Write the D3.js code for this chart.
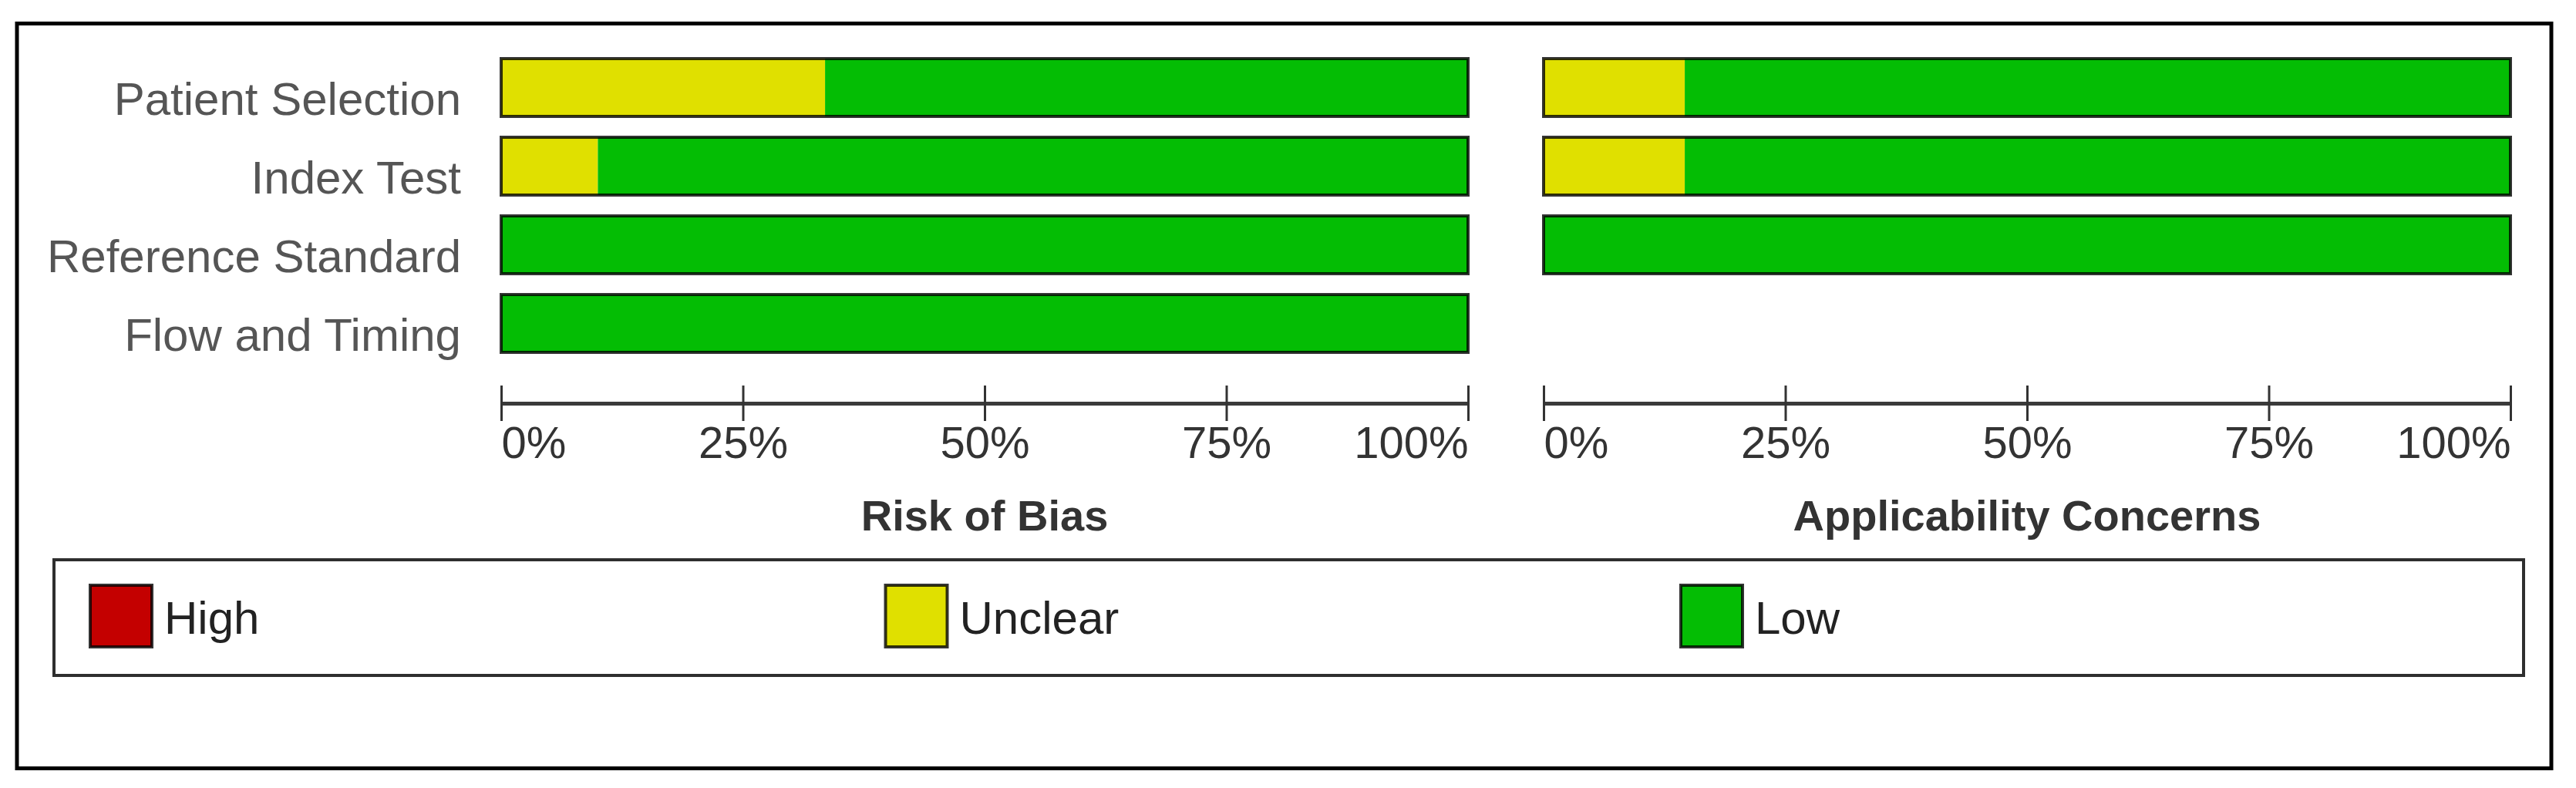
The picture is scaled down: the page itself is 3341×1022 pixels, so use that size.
<!DOCTYPE html>
<html>
<head>
<meta charset="utf-8">
<script src="https://cdn.jsdelivr.net/npm/d3@7"></script>
<style>
  html, body { margin: 0; padding: 0; background: #fff; }
  #chart { width: 3341px; height: 1022px; }
</style>
</head>
<body>
<div id="chart"></div>
<script>
// 数据
const domains = ["Patient Selection", "Index Test", "Reference Standard", "Flow and Timing"]
const applicDomains = ["Patient Selection", "Index Test", "Reference Standard"]
const riskHigh = [0, 0, 0, 0]
const riskUnclear = [33.5, 10, 0, 0]
const riskLow = [66.5, 90, 100, 100]
const applicHigh = [0, 0, 0]
const applicUnclear = [14.6, 14.6, 0]
const applicLow = [85.4, 85.4, 100]
const tickValues = [0, 25, 50, 75, 100]
const legendLabels = ["High", "Unclear", "Low"]
const keys = ["high", "unclear", "low"]
const colors = ["#c40000", "#e0e000", "#04bd04"]

const W = 3341
const H = 1022
const FONT = "'Liberation Sans', Arial, sans-serif"

const svg = d3.select("#chart").append("svg").attr("width", W).attr("height", H)
svg.append("rect").attr("width", W).attr("height", H).attr("fill", "#fff")

// 外框
svg.append("rect")
  .attr("x", 22).attr("y", 30.5)
  .attr("width", 3287).attr("height", 966)
  .attr("fill", "none").attr("stroke", "#000").attr("stroke-width", 5)

const y = d3.scaleBand().domain(domains).range([62.5, 470.5]).paddingInner(0.265).paddingOuter(0.1325)
const color = d3.scaleOrdinal().domain(keys).range(colors)

// 一个面板：堆叠条 + 坐标轴 + 标题
function drawPanel(x0, x1, cats, high, unclear, low, title) {
  const x = d3.scaleLinear().domain([0, 100]).range([x0, x1])
  const rows = cats.map((d, i) => ({domain: d, high: high[i], unclear: unclear[i], low: low[i]}))
  const series = d3.stack().keys(keys)(rows)

  const g = svg.append("g")
  g.selectAll("g.series")
    .data(series)
    .join("g")
    .attr("class", "series")
    .attr("fill", d => color(d.key))
    .selectAll("rect")
    .data(d => d)
    .join("rect")
    .attr("x", d => x(d[0]))
    .attr("width", d => x(d[1]) - x(d[0]))
    .attr("y", d => y(d.data.domain))
    .attr("height", y.bandwidth())

  // 整条的描边
  g.selectAll("rect.outline")
    .data(rows)
    .join("rect")
    .attr("class", "outline")
    .attr("x", x(0))
    .attr("width", x(100) - x(0))
    .attr("y", d => y(d.domain))
    .attr("height", y.bandwidth())
    .attr("fill", "none")
    .attr("stroke", "#000")
    .attr("stroke-opacity", 0.8)
    .attr("stroke-width", 4)

  const axis = d3.axisBottom(x)
    .tickValues(tickValues)
    .tickFormat(d => d + "%")
    .tickSizeInner(23)
    .tickSizeOuter(0)

  const ag = svg.append("g")
    .attr("transform", "translate(0,523)")
    .call(axis)
    .attr("font-family", FONT)
    .attr("font-size", 58)

  ag.select(".domain").attr("stroke", "#3a3a3a").attr("stroke-width", 5)
  ag.selectAll(".tick line").attr("y1", -23).attr("stroke", "#333").attr("stroke-width", 3)
  ag.selectAll(".tick text")
    .attr("y", 71)
    .attr("dy", null)
    .attr("fill", "#333")
    .attr("text-anchor", (d, i) => i === 0 ? "start" : (i === tickValues.length - 1 ? "end" : "middle"))

  svg.append("text")
    .attr("x", (x0 + x1) / 2)
    .attr("y", 688)
    .attr("text-anchor", "middle")
    .attr("font-family", FONT)
    .attr("font-weight", "bold")
    .attr("font-size", 56)
    .attr("fill", "#333")
    .text(title)
}

drawPanel(650, 1904, domains, riskHigh, riskUnclear, riskLow, "Risk of Bias")
drawPanel(2002, 3256, applicDomains, applicHigh, applicUnclear, applicLow, "Applicability Concerns")

// 左侧标签
svg.append("g")
  .selectAll("text")
  .data(domains)
  .join("text")
  .attr("x", 598)
  .attr("y", d => y(d) + 73)
  .attr("text-anchor", "end")
  .attr("font-family", FONT)
  .attr("font-size", 60)
  .attr("fill", "#555")
  .text(d => d)

// 图例
svg.append("rect")
  .attr("x", 70).attr("y", 726)
  .attr("width", 3203).attr("height", 150)
  .attr("fill", "none").attr("stroke", "#2e2e2e").attr("stroke-width", 4)

const lx = d3.scaleLinear().domain([0, 2]).range([117, 2180])
const items = svg.append("g")
  .selectAll("g")
  .data(legendLabels)
  .join("g")
  .attr("transform", (d, i) => `translate(${lx(i)},759)`)

items.append("rect")
  .attr("width", 80).attr("height", 80)
  .attr("fill", (d, i) => colors[i])
  .attr("stroke", "#000").attr("stroke-opacity", 0.8).attr("stroke-width", 4)

items.append("text")
  .attr("x", 96)
  .attr("y", 63)
  .attr("font-family", FONT)
  .attr("font-size", 60)
  .attr("fill", "#222")
  .text(d => d)
</script>
</body>
</html>
